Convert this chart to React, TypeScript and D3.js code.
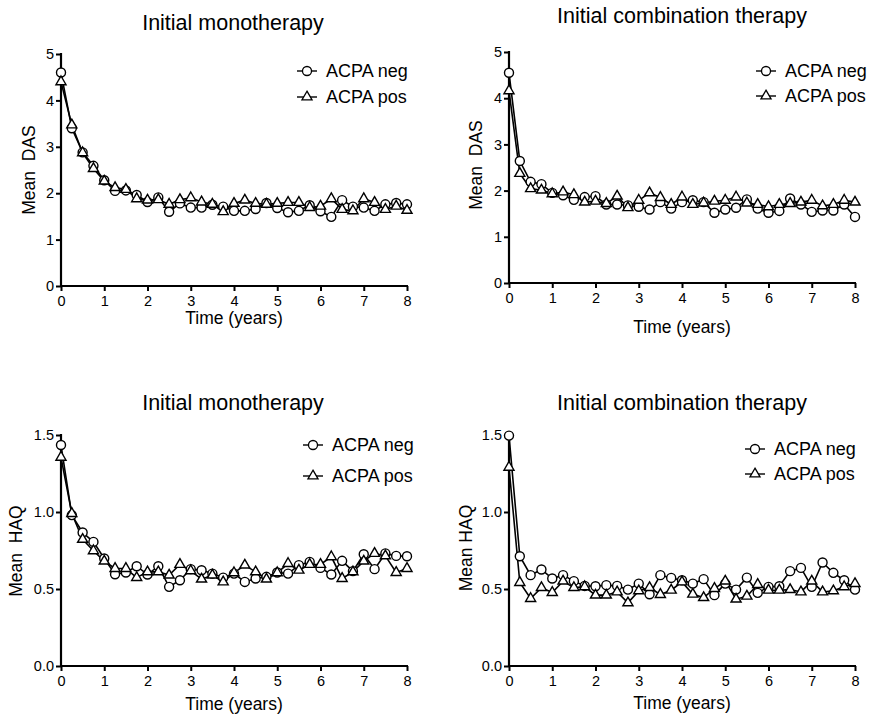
import React, { useEffect, useRef } from 'react';
import * as d3 from 'd3';

// time points (years)
const years = [0, 0.25, 0.5, 0.75, 1, 1.25, 1.5, 1.75, 2, 2.25, 2.5, 2.75, 3, 3.25, 3.5, 3.75, 4,
  4.25, 4.5, 4.75, 5, 5.25, 5.5, 5.75, 6, 6.25, 6.5, 6.75, 7, 7.25, 7.5, 7.75, 8];
const xTicks = [0, 1, 2, 3, 4, 5, 6, 7, 8];

// Mean DAS
const dasMonoNeg = [4.60, 3.40, 2.88, 2.59, 2.28, 2.05, 2.06, 1.96, 1.81, 1.91, 1.60, 1.78, 1.69, 1.69, 1.75, 1.71, 1.62,
  1.62, 1.66, 1.79, 1.68, 1.59, 1.62, 1.74, 1.61, 1.49, 1.85, 1.71, 1.69, 1.62, 1.76, 1.79, 1.76];
const dasMonoPos = [4.40, 3.47, 2.87, 2.53, 2.26, 2.12, 2.08, 1.88, 1.85, 1.86, 1.76, 1.86, 1.90, 1.81, 1.76, 1.60, 1.78,
  1.85, 1.78, 1.76, 1.78, 1.80, 1.80, 1.69, 1.72, 1.88, 1.65, 1.62, 1.88, 1.80, 1.65, 1.72, 1.63];
const dasComboNeg = [4.55, 2.64, 2.19, 2.14, 1.95, 1.90, 1.80, 1.86, 1.88, 1.70, 1.70, 1.68, 1.65, 1.59, 1.75, 1.61, 1.75,
  1.79, 1.75, 1.52, 1.59, 1.63, 1.81, 1.61, 1.52, 1.56, 1.83, 1.70, 1.54, 1.57, 1.57, 1.70, 1.43];
const dasComboPos = [4.16, 2.37, 2.04, 2.01, 1.93, 1.97, 1.91, 1.75, 1.77, 1.72, 1.88, 1.63, 1.79, 1.95, 1.85, 1.70, 1.86,
  1.70, 1.73, 1.77, 1.79, 1.86, 1.73, 1.70, 1.65, 1.70, 1.72, 1.75, 1.79, 1.67, 1.70, 1.79, 1.75];

// Mean HAQ
const haqMonoNeg = [1.435, 0.98, 0.867, 0.806, 0.698, 0.596, 0.607, 0.648, 0.594, 0.648, 0.514, 0.557, 0.629, 0.622, 0.600, 0.574, 0.600,
  0.546, 0.568, 0.579, 0.607, 0.600, 0.655, 0.676, 0.637, 0.594, 0.683, 0.616, 0.726, 0.629, 0.731, 0.715, 0.713];
const haqMonoPos = [1.355, 0.99, 0.822, 0.748, 0.681, 0.633, 0.633, 0.574, 0.611, 0.611, 0.590, 0.659, 0.618, 0.564, 0.590, 0.546, 0.605,
  0.655, 0.611, 0.564, 0.605, 0.665, 0.622, 0.659, 0.659, 0.709, 0.568, 0.611, 0.681, 0.731, 0.715, 0.607, 0.633];
const haqComboNeg = [1.496, 0.713, 0.590, 0.627, 0.568, 0.590, 0.551, 0.520, 0.518, 0.525, 0.520, 0.496, 0.535, 0.466, 0.590, 0.572, 0.557,
  0.535, 0.564, 0.460, 0.535, 0.496, 0.574, 0.475, 0.514, 0.518, 0.616, 0.637, 0.514, 0.672, 0.605, 0.557, 0.496];
const haqComboPos = [1.290, 0.542, 0.438, 0.509, 0.477, 0.551, 0.509, 0.514, 0.460, 0.460, 0.481, 0.410, 0.488, 0.509, 0.464, 0.492, 0.546,
  0.466, 0.444, 0.503, 0.551, 0.434, 0.453, 0.529, 0.492, 0.492, 0.496, 0.481, 0.551, 0.481, 0.488, 0.514, 0.535];

const dasTicks = [0, 1, 2, 3, 4, 5];
const haqTicks = [0, 0.5, 1.0, 1.5];
const seriesNames = ['ACPA neg', 'ACPA pos'];

const FONT = "'Liberation Sans', Arial, sans-serif";

const panels = [
  { title: 'Initial monotherapy', titleX: 233, titleY: 30, x0: 61, x1: 407, yTop: 54, yBot: 286, yMax: 5,
    yTicks: dasTicks, fmt: d3.format('d'), ylabel: 'Mean\u00a0\u00a0DAS', ylabelX: 35, ylabelY: 170, xlabelY: 324,
    neg: dasMonoNeg, pos: dasMonoPos, legX: 307, legY: [71, 97] },
  { title: 'Initial combination therapy', titleX: 682, titleY: 23, x0: 509, x1: 855, yTop: 52, yBot: 283, yMax: 5,
    yTicks: dasTicks, fmt: d3.format('d'), ylabel: 'Mean\u00a0\u00a0DAS', ylabelX: 482, ylabelY: 165, xlabelY: 333,
    neg: dasComboNeg, pos: dasComboPos, legX: 766, legY: [71, 96] },
  { title: 'Initial monotherapy', titleX: 233, titleY: 410, x0: 61, x1: 407, yTop: 435, yBot: 666, yMax: 1.5,
    yTicks: haqTicks, fmt: d3.format('.1f'), ylabel: 'Mean\u00a0\u00a0HAQ', ylabelX: 22, ylabelY: 551, xlabelY: 710,
    neg: haqMonoNeg, pos: haqMonoPos, legX: 313, legY: [445, 476] },
  { title: 'Initial combination therapy', titleX: 682, titleY: 410, x0: 509, x1: 855, yTop: 435, yBot: 666, yMax: 1.5,
    yTicks: haqTicks, fmt: d3.format('.1f'), ylabel: 'Mean HAQ', ylabelX: 472, ylabelY: 548, xlabelY: 709,
    neg: haqComboNeg, pos: haqComboPos, legX: 755, legY: [449, 474] },
];

const circleSym = d3.symbol(d3.symbolCircle, 64);
const triSym = d3.symbol(d3.symbolTriangle, 44);

const App = () => {
  const svgRef = useRef(null);

  useEffect(() => {
    const svg = d3.select(svgRef.current);
    svg.selectAll('*').remove();

    panels.forEach((p) => {
      const g = svg.append('g');
      const x = d3.scaleLinear().domain([0, 8]).range([p.x0, p.x1]);
      const y = d3.scaleLinear().domain([0, p.yMax]).range([p.yBot, p.yTop]);

      // title
      g.append('text')
        .attr('x', p.titleX).attr('y', p.titleY)
        .attr('text-anchor', 'middle')
        .style('font-size', '21.5px')
        .text(p.title);

      // axes (ticks + labels from d3, axis lines drawn separately)
      const xAxis = g.append('g')
        .attr('transform', `translate(0,${p.yBot})`)
        .call(d3.axisBottom(x).tickValues(xTicks).tickSize(5).tickPadding(5).tickFormat(d3.format('d')));
      const yAxis = g.append('g')
        .attr('transform', `translate(${p.x0},0)`)
        .call(d3.axisLeft(y).tickValues(p.yTicks).tickSize(5).tickPadding(2).tickFormat(p.fmt));
      [xAxis, yAxis].forEach((a) => {
        a.select('.domain').remove();
        a.selectAll('.tick line').attr('stroke-width', 2);
        a.selectAll('.tick text').style('font-size', '14.5px').attr('fill', '#000');
        a.attr('font-family', FONT);
      });
      g.append('line')
        .attr('x1', p.x0 - 1).attr('x2', p.x1 + 1).attr('y1', p.yBot).attr('y2', p.yBot)
        .attr('stroke', '#000').attr('stroke-width', 2.2);
      g.append('line')
        .attr('x1', p.x0).attr('x2', p.x0).attr('y1', p.yBot + 1).attr('y2', p.yTop - 1)
        .attr('stroke', '#000').attr('stroke-width', 2.2);

      // axis titles
      g.append('text')
        .attr('x', (p.x0 + p.x1) / 2).attr('y', p.xlabelY)
        .attr('text-anchor', 'middle')
        .style('font-size', '17.5px')
        .text('Time (years)');
      g.append('text')
        .attr('transform', `translate(${p.ylabelX},${p.ylabelY}) rotate(-90)`)
        .attr('text-anchor', 'middle')
        .style('font-size', '17.5px')
        .text(p.ylabel);

      // series
      const line = d3.line().x((d) => x(d[0])).y((d) => y(d[1]));
      const series = [
        { vals: p.neg, sym: circleSym },
        { vals: p.pos, sym: triSym },
      ];
      series.forEach((s) => {
        const pts = years.map((t, i) => [t, s.vals[i]]);
        g.append('path')
          .attr('d', line(pts))
          .attr('fill', 'none').attr('stroke', '#000').attr('stroke-width', 1.6);
      });
      series.forEach((s) => {
        const pts = years.map((t, i) => [t, s.vals[i]]);
        g.selectAll(null).data(pts).join('path')
          .attr('transform', (d) => `translate(${x(d[0])},${y(d[1])})`)
          .attr('d', s.sym())
          .attr('fill', '#fff').attr('stroke', '#000').attr('stroke-width', 1.4);
      });

      // legend
      series.forEach((s, i) => {
        const ly = p.legY[i];
        g.append('line')
          .attr('x1', p.legX - 10).attr('x2', p.legX + 10).attr('y1', ly).attr('y2', ly)
          .attr('stroke', '#000').attr('stroke-width', 1.4);
        g.append('path')
          .attr('transform', `translate(${p.legX},${ly})`)
          .attr('d', s.sym())
          .attr('fill', '#fff').attr('stroke', '#000').attr('stroke-width', 1.3);
        g.append('text')
          .attr('x', p.legX + 19).attr('y', ly + 6)
          .style('font-size', '18px')
          .text(seriesNames[i]);
      });
    });
  }, []);

  return (
    <svg
      ref={svgRef}
      width={871}
      height={716}
      style={{ position: 'absolute', left: 0, top: 0, background: '#fff', fontFamily: FONT }}
    />
  );
};

export default App;
